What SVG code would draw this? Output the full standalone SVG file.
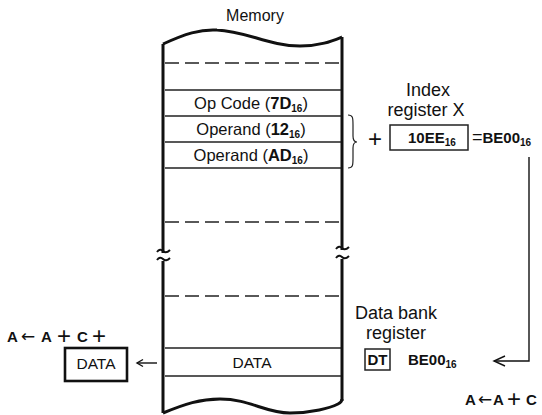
<svg xmlns="http://www.w3.org/2000/svg" width="542" height="415" viewBox="0 0 542 415">
<style>
text{font-family:"Liberation Sans",Arial,sans-serif;fill:#111}
.cell{font-size:16.5px}
.lbl{font-size:18px}
.b{font-weight:bold}
.bold15{font-weight:bold;font-size:15px}
.sub{font-size:10px;font-weight:bold}
.arr{font-weight:normal;font-size:17px;font-family:"DejaVu Sans",sans-serif}
.plus{font-weight:normal;font-size:24px}
.side{stroke:#111;stroke-width:3;fill:none}
.thin{stroke:#222;stroke-width:1.3;fill:none}
.dash{stroke:#222;stroke-width:1.3;stroke-dasharray:14 6;fill:none}
.box{stroke:#222;stroke-width:1.5;fill:#fff}
.conn{stroke:#111;stroke-width:1.4;fill:none}
</style>
<rect width="542" height="415" fill="#fff"/>
<g id="memory">
<text x="255" y="21" class="lbl" style="font-size:16px" text-anchor="middle">Memory</text>
<path class="side" d="M 163 44 C 185 34 200 29 217 30 C 245 31 270 46 300 46 C 320 46 332 41 342 37"/>
<path class="side" d="M163,44 V253 M163,261 V413 M342,37 V250 M342,259 V401"/>
<path class="side" d="M 163 413 C 185 404 200 399 220 399 C 250 399 265 413 290 413 C 312 413 330 408 338 404 Q 342 402 342 399"/>
<path stroke="#111" stroke-width="2" fill="none" d="M157,252 q3,-4 6,-1 t7,-1 M157,260 q3,-4 6,-1 t7,-1 M336,249 q3,-4 6,-1 t7,-1 M336,258 q3,-4 6,-1 t7,-1"/>
<path class="dash" d="M165,63 H341 M165,222 H341 M165,296 H341"/>
<path class="thin" d="M165,90 H341 M165,116 H341 M165,142 H341 M165,168 H341 M165,348 H341 M165,376 H341"/>
<text class="cell" x="251" y="109" text-anchor="middle">Op Code (<tspan class="b">7D</tspan><tspan class="sub" dy="3">16</tspan><tspan dy="-3">)</tspan></text>
<text class="cell" x="251" y="135" text-anchor="middle">Operand (<tspan class="b">12</tspan><tspan class="sub" dy="3">16</tspan><tspan dy="-3">)</tspan></text>
<text class="cell" x="251" y="161" text-anchor="middle">Operand (<tspan class="b">AD</tspan><tspan class="sub" dy="3">16</tspan><tspan dy="-3">)</tspan></text>
<text class="cell" x="252" y="368" text-anchor="middle" style="font-size:15.5px">DATA</text>
</g>
<g id="index-register">
<path stroke="#222" stroke-width="1.2" fill="none" d="M348,115 C353,115 353,118 353,125 V136 C353,140 354,142 357,142 C354,142 353,144 353,148 V158 C353,165 353,168 348,168"/>
<text x="375" y="147" text-anchor="middle" class="plus">+</text>
<text class="lbl" x="428" y="96" text-anchor="middle">Index</text>
<text class="lbl" x="426" y="116" text-anchor="middle">register X</text>
<rect class="box" x="390" y="125" width="78" height="25"/>
<text x="408" y="143" class="bold15">10EE<tspan class="sub" dy="3">16</tspan></text>
<text x="472" y="143" class="bold15"><tspan style="font-weight:normal;font-size:18px">=</tspan>BE00<tspan class="sub" dy="3">16</tspan></text>
</g>
<g id="data-bank-register">
<text class="lbl" x="355" y="319">Data bank</text>
<text class="lbl" x="366" y="339">register</text>
<rect class="box" x="365" y="349" width="25" height="21"/>
<text x="377.5" y="365" class="bold15" text-anchor="middle">DT</text>
<text x="408" y="365" class="bold15">BE00<tspan class="sub" dy="3">16</tspan></text>
</g>
<g id="data-register">
<text y="342" class="bold15"><tspan x="7">A</tspan><tspan x="21" class="arr">←</tspan><tspan x="41">A</tspan><tspan x="57" y="344" class="plus">+</tspan><tspan x="77" y="342">C</tspan><tspan x="92" y="344" class="plus">+</tspan></text>
<rect x="65" y="348" width="62" height="33" fill="#fff" stroke="#111" stroke-width="2.6"/>
<text x="96" y="369" text-anchor="middle" style="font-size:15.5px">DATA</text>
</g>
<g id="result">
<text y="405" class="bold15"><tspan x="465">A</tspan><tspan x="478" class="arr">←</tspan><tspan x="493">A</tspan><tspan x="507" y="407" class="plus">+</tspan><tspan x="526" y="405">C</tspan></text>
</g>
<g id="connectors">
<path class="conn" d="M529,157 V361 H494"/>
<path class="conn" d="M505,356 L494,361 L505,366"/>
<path class="conn" d="M157,363 H137"/>
<path class="conn" d="M143,359.5 L137,363 L143,366.5"/>
</g>
</svg>
